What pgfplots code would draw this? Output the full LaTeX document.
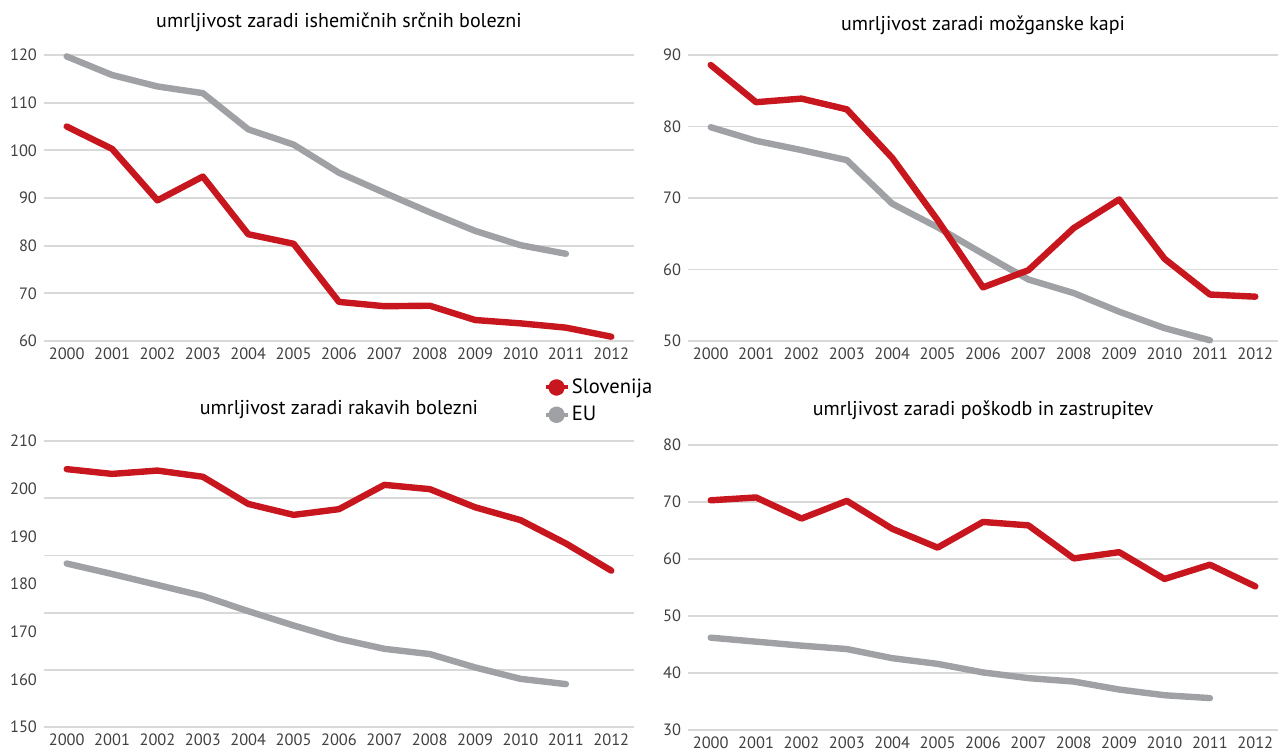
\documentclass[border=0pt]{standalone}
\usepackage{pgfplots}
\pgfplotsset{compat=1.18}
\usepackage{fontspec}
\setmainfont{PT Sans}
\definecolor{sired}{HTML}{C8161E}
\definecolor{eugray}{HTML}{A0A1A5}
\definecolor{gridc}{HTML}{D9D9D9}
\definecolor{tickc}{HTML}{404040}
\pgfplotsset{
  panel/.style={
    scale only axis, width=295pt, height=143pt,
    xmin=1999.5, xmax=2012.5,
    xtick={2000,...,2012},
    xticklabels={2000,2001,2002,2003,2004,2005,2006,2007,2008,2009,2010,2011,2012},
    axis line style={draw=none}, tick style={draw=none},
    ymajorgrids, major grid style={gridc, line width=0.9pt},
    /pgf/number format/assume math mode=true,
    ticklabel style={font=\fontsize{8.2}{10}\selectfont, text=tickc},
    title style={font=\fontsize{10}{12}\selectfont, text=black, at={(0.5,1)}, anchor=base, yshift=0pt},
    clip=false,
  },
  sline/.style={sired, line width=3.2pt, line join=round, line cap=round},
  eline/.style={eugray, line width=3.2pt, line join=round, line cap=round},
}
\begin{document}
\begin{tikzpicture}
\useasboundingbox (0,0) rectangle (642.5pt,-376.5pt);
% Panel 1
\begin{axis}[panel, at={(22pt,-170.5pt)}, anchor=south west,
  ymin=60, ymax=120, ytick={60,70,...,120},
  title={umrljivost zaradi ishemičnih srčnih bolezni}, title style={yshift=8pt}]
\addplot[eline] coordinates {(2000,119.7) (2001,115.8) (2002,113.4) (2003,112.0) (2004,104.4) (2005,101.2) (2006,95.3) (2007,91.1) (2008,87.0) (2009,83.1) (2010,80.1) (2011,78.3)};
\addplot[sline] coordinates {(2000,105.0) (2001,100.3) (2002,89.5) (2003,94.5) (2004,82.4) (2005,80.4) (2006,68.2) (2007,67.3) (2008,67.4) (2009,64.4) (2010,63.7) (2011,62.8) (2012,60.9)};
\end{axis}
% Panel 2
\begin{axis}[panel, at={(344pt,-170.5pt)}, anchor=south west,
  ymin=50, ymax=90, ytick={50,60,...,90},
  title={umrljivost zaradi možganske kapi}, title style={yshift=6pt}]
\addplot[eline] coordinates {(2000,79.9) (2001,78.0) (2002,76.7) (2003,75.3) (2004,69.2) (2005,65.9) (2006,62.2) (2007,58.6) (2008,56.7) (2009,54.1) (2010,51.8) (2011,50.1)};
\addplot[sline] coordinates {(2000,88.6) (2001,83.4) (2002,83.9) (2003,82.4) (2004,75.6) (2005,66.9) (2006,57.5) (2007,59.9) (2008,65.8) (2009,69.8) (2010,61.5) (2011,56.5) (2012,56.2)};
\end{axis}
% Panel 3
\begin{axis}[panel, at={(22pt,-363.5pt)}, anchor=south west,
  ymin=150, ymax=210, ytick={150,160,...,210}, ymajorgrids=false,
  extra y ticks={150,162,174,186,198,210}, extra y tick labels={},
  extra y tick style={ymajorgrids=true},
  title={umrljivost zaradi rakavih bolezni}, title style={yshift=7.5pt},
  legend style={draw=none, fill=none, at={(0.846,1.228)}, anchor=north west,
    font=\fontsize{10.3}{12}\selectfont, inner sep=0pt, row sep=2.5pt,
    nodes={inner sep=1.2pt}},
  legend cell align=left,
  legend image code/.code={\draw[#1, line width=2pt, line cap=butt] (0pt,0pt) -- (11pt,0pt); \fill[#1] (5.5pt,0pt) circle (2.6pt);}]
\addplot[sline] coordinates {(2000,204.1) (2001,203.1) (2002,203.8) (2003,202.5) (2004,196.8) (2005,194.5) (2006,195.7) (2007,200.8) (2008,199.9) (2009,196.1) (2010,193.4) (2011,188.5) (2012,182.8)};
\addlegendentry{Slovenija}
\addplot[eline] coordinates {(2000,184.3) (2001,182.1) (2002,179.8) (2003,177.5) (2004,174.3) (2005,171.3) (2006,168.5) (2007,166.4) (2008,165.3) (2009,162.5) (2010,160.1) (2011,159.0)};
\addlegendentry{EU}
\end{axis}
% Panel 4
\begin{axis}[panel, at={(344pt,-365pt)}, anchor=south west, height=142.5pt,
  ymin=30, ymax=80, ytick={30,40,...,80},
  title={umrljivost zaradi poškodb in zastrupitev}, title style={yshift=9pt}]
\addplot[eline] coordinates {(2000,46.2) (2001,45.5) (2002,44.8) (2003,44.2) (2004,42.6) (2005,41.6) (2006,40.1) (2007,39.1) (2008,38.5) (2009,37.1) (2010,36.1) (2011,35.6)};
\addplot[sline] coordinates {(2000,70.3) (2001,70.8) (2002,67.1) (2003,70.2) (2004,65.3) (2005,62.0) (2006,66.5) (2007,65.9) (2008,60.1) (2009,61.2) (2010,56.5) (2011,59.0) (2012,55.2)};
\end{axis}
\end{tikzpicture}
\end{document}
